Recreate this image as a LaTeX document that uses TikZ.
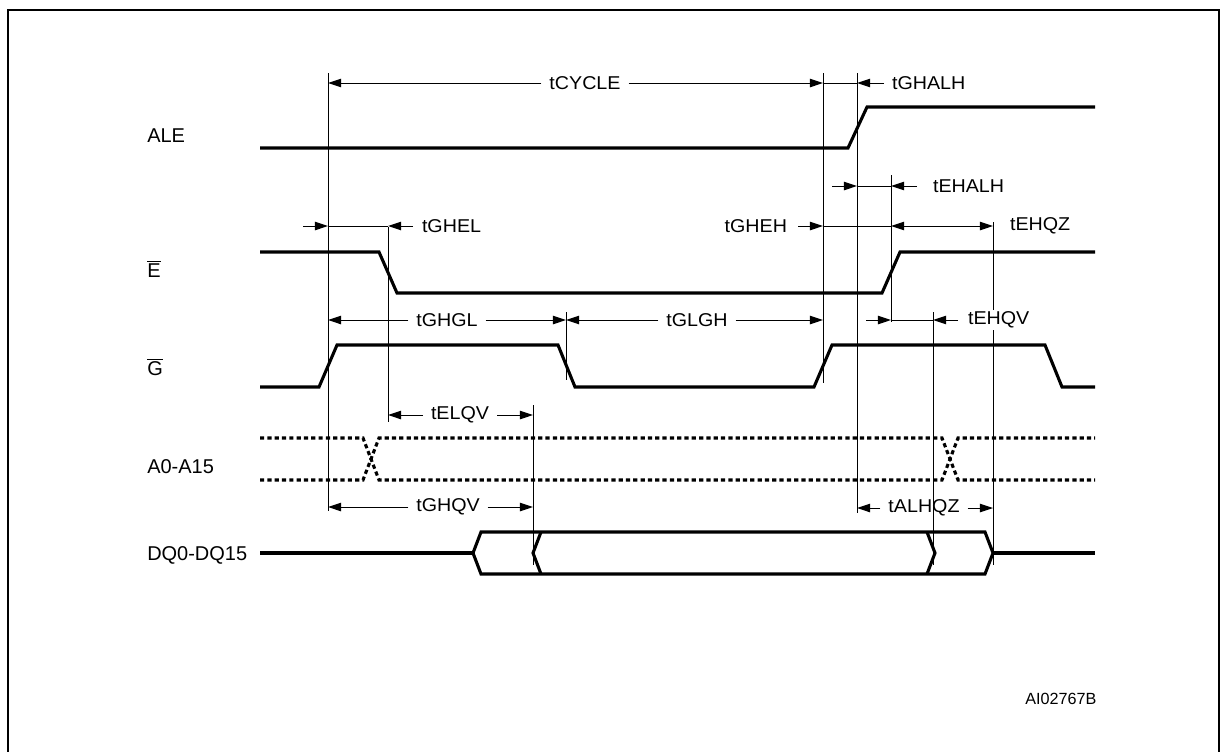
\documentclass[tikz,border=0pt]{standalone}
\usepackage{fontspec}
\setmainfont{Liberation Sans}
\newfontfamily\tfont{Liberation Sans}[FakeStretch=1.06]
\usetikzlibrary{arrows.meta}

\begin{document}
\begin{tikzpicture}[x=0.025cm, y=-0.025cm,
    sig/.style={line width=2.2pt},
    bus/.style={line width=2.2pt, dash pattern=on 3pt off 2.2pt},
    vline/.style={line width=0.7pt},
    dim/.style={line width=0.7pt, -{Triangle[length=9.3pt,width=6pt]}},
    dimboth/.style={line width=0.7pt, {Triangle[length=9.3pt,width=6pt]}-{Triangle[length=9.3pt,width=6pt]}},
    tlab/.style={font=\tfont\fontsize{13.2}{15}\selectfont, inner xsep=5.5pt, inner ysep=1pt},
    slab/.style={font=\fontsize{14.2}{17}\selectfont, anchor=base west, inner sep=0pt}]
    \useasboundingbox (0,0) rectangle (1227,751);
    % frame
    \draw[line width=1.4pt] (8,800) -- (8,10) -- (1219,10) -- (1219,800);
    % signal names
    \node[slab] (ale) at (147,142) {ALE};
    \node[slab] (e) at (147,277) {$\overline{\hbox{E}}$};
    \node[slab] (g) at (147,375) {$\overline{\hbox{G}}$};
    \node[slab] (adr) at (147,473) {A0-A15};
    \node[slab] (dq) at (147,560) {DQ0-DQ15};
    \node[font=\fontsize{11.5}{13}\selectfont, anchor=base west, inner sep=0pt] (ref) at (1025,704) {AI02767B};
    % reference lines
    \draw[vline] (328,73) -- (328,511);
    \draw[vline] (388,227) -- (388,422);
    \draw[vline] (533,405) -- (533,565);
    \draw[vline] (566,312) -- (566,380);
    \draw[vline] (823,73) -- (823,383);
    \draw[vline] (857,73) -- (857,513);
    \draw[vline] (891,175) -- (891,322);
    \draw[vline] (933,312) -- (933,565);
    \draw[vline] (993,222) -- (993,565);
    % waveforms
    \draw[sig] (260,148) -- (848,148) -- (867,107) -- (1095,107);
    \draw[sig] (260,252) -- (379,252) -- (397,293) -- (882,293) -- (900,252) -- (1095,252);
    \draw[sig] (260,387) -- (319,387) -- (337,345) -- (558,345) -- (575,387) -- (814,387)
        -- (832,345) -- (1045,345) -- (1062,387) -- (1095,387);
    \draw[bus] (260,438) -- (363,438) -- (379,480) -- (942,480) -- (958,438) -- (1095,438);
    \draw[bus] (260,480) -- (363,480) -- (379,438) -- (942,438) -- (958,480) -- (1095,480);
    \draw[sig] (260,553) -- (473,553);
    \draw[sig] (473,553) -- (481,532) -- (985,532) -- (993,553) -- (985,574) -- (481,574) -- cycle;
    \draw[sig] (541,532) -- (533,553) -- (541,574);
    \draw[sig] (927,532) -- (935,553) -- (927,574);
    \draw[sig] (993,553) -- (1095,553);
    % tCYCLE, tGHALH
    \node[tlab] (tcycle) at (585,83) {tCYCLE};
    \draw[dim] (tcycle.west) -- (328,83);
    \draw[dim] (tcycle.east) -- (823,83);
    \draw[vline] (823,83) -- (857,83);
    \node[tlab, anchor=west] (tghalh) at (884,83) {tGHALH};
    \draw[dim] (tghalh.west) -- (857,83);
    % tEHALH
    \draw[dim] (832,186) -- (857,186);
    \draw[vline] (857,186) -- (891,186);
    \node[tlab, anchor=west] (tehalh) at (925,186) {tEHALH};
    \draw[dim] (917,186) -- (891,186);
    % tGHEL, tGHEH, tEHQZ
    \draw[dim] (303,226) -- (328,226);
    \draw[vline] (328,226) -- (388,226);
    \draw[dim] (413,226) -- (388,226);
    \node[tlab, anchor=west] (tghel) at (414,226) {tGHEL};
    \node[tlab, anchor=east] (tgheh) at (795,226) {tGHEH};
    \draw[dim] (798,226) -- (823,226);
    \draw[vline] (823,226) -- (891,226);
    \draw[dimboth] (891,226) -- (993,226);
    \node[tlab, anchor=west] (tehqz) at (1002,226) {tEHQZ};
    % tGHGL, tGLGH, tEHQV
    \node[tlab] (tghgl) at (447,320) {tGHGL};
    \draw[dim] (tghgl.west) -- (328,320);
    \draw[dim] (tghgl.east) -- (566,320);
    \node[tlab] (tglgh) at (697,320) {tGLGH};
    \draw[dim] (tglgh.west) -- (566,320);
    \draw[dim] (tglgh.east) -- (823,320);
    \draw[dim] (866,320) -- (891,320);
    \draw[vline] (891,320) -- (933,320);
    \draw[dim] (958,320) -- (933,320);
    \node[tlab, anchor=west, fill=white] (tehqv) at (960,320) {tEHQV};
    % tELQV, tGHQV, tALHQZ
    \node[tlab] (telqv) at (460,415) {tELQV};
    \draw[dim] (telqv.west) -- (388,415);
    \draw[dim] (telqv.east) -- (533,415);
    \node[tlab] (tghqv) at (448,507) {tGHQV};
    \draw[dim] (tghqv.west) -- (328,507);
    \draw[dim] (tghqv.east) -- (533,507);
    \node[tlab] (talhqz) at (924,508) {tALHQZ};
    \draw[dim] (talhqz.west) -- (857,508);
    \draw[dim] (talhqz.east) -- (993,508);
\end{tikzpicture}
\end{document}
